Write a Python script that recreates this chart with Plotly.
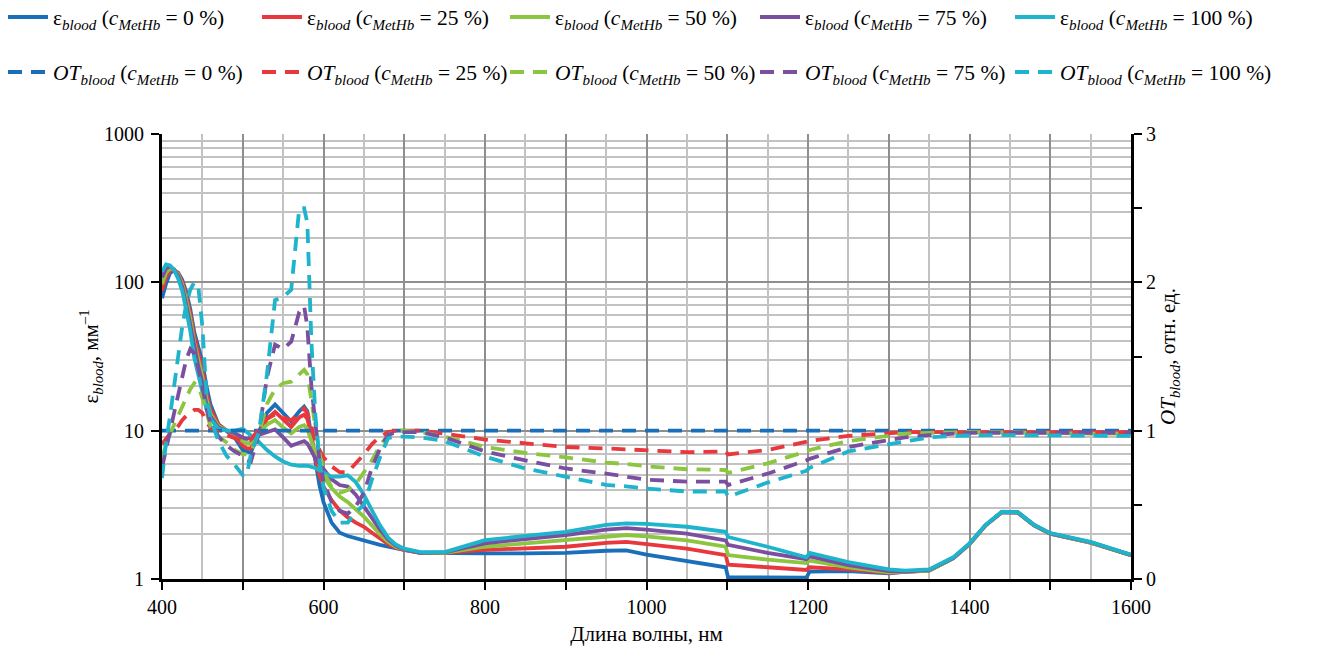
import plotly.graph_objects as go

# Wavelength grid, nm
WL = [400, 405, 410, 415, 420, 425, 430, 435, 440, 445,
      450, 455, 460, 470, 480, 490, 500, 505, 510, 520,
      530, 540, 550, 560, 570, 576, 580, 585, 590, 595,
      600, 610, 620, 630, 640, 650, 660, 670, 680, 690,
      700, 720, 750, 800, 850, 900, 950, 975, 1000, 1050,
      1098, 1101, 1150, 1198, 1202, 1250, 1300, 1320, 1350, 1380,
      1400, 1420, 1440, 1460, 1480, 1500, 1550, 1600]

# epsilon_blood, mm^-1
EPS_0 = [78, 98, 116, 120, 116, 104, 86, 66, 46, 36,
         29, 20, 15, 11, 10, 9, 7.4, 7.2, 7.1, 9.8,
         13.2, 15, 13, 11.5, 13.5, 14.5, 13.5, 9.5, 6.2, 4.3,
         3.3, 2.4, 2.05, 1.95, 1.88, 1.83, 1.76, 1.7, 1.65, 1.6,
         1.57, 1.5, 1.49, 1.49, 1.49, 1.5, 1.55, 1.56, 1.46, 1.33,
         1.2, 1.03, 1.02, 1.02, 1.12, 1.13, 1.09, 1.12, 1.14, 1.38,
         1.72, 2.3, 2.82, 2.8, 2.3, 2.02, 1.76, 1.45]
EPS_25 = [88, 108, 120, 121, 115, 101, 82, 62, 43, 33,
          26, 18, 14, 11, 10, 9.2, 7.9, 7.6, 7.6, 9.6,
          12, 13.4, 12, 10.6, 12.3, 12.8, 12, 9.3, 6.5, 5.0,
          4.2, 3.4, 2.9, 2.6, 2.4, 2.25, 2.05, 1.88, 1.72, 1.62,
          1.57, 1.5, 1.5, 1.57, 1.6, 1.65, 1.75, 1.78, 1.72, 1.6,
          1.45, 1.25, 1.2, 1.15, 1.2, 1.16, 1.1, 1.12, 1.14, 1.38,
          1.72, 2.3, 2.82, 2.8, 2.3, 2.02, 1.76, 1.45]
EPS_50 = [97, 116, 124, 122, 113, 97, 76, 57, 39, 30,
          23, 16.5, 13, 10.7, 10, 9.4, 8.5, 8.2, 8.3, 9.5,
          11, 11.8, 10.5, 9.6, 10.6, 10.9, 10.3, 8.5, 7.0, 5.8,
          4.9, 4.1, 3.6, 3.3, 2.95, 2.63, 2.3, 2.0, 1.78, 1.64,
          1.58, 1.5, 1.5, 1.65, 1.74, 1.83, 1.95, 1.98, 1.94, 1.82,
          1.65, 1.45, 1.35, 1.28, 1.33, 1.2, 1.11, 1.12, 1.14, 1.38,
          1.72, 2.3, 2.82, 2.8, 2.3, 2.02, 1.76, 1.45]
EPS_75 = [108, 124, 128, 122, 110, 93, 71, 52, 36, 27,
          21, 15, 12.5, 10.5, 10, 9.6, 9.0, 8.8, 9.0, 9.4,
          9.8, 10.2, 9.0, 7.9, 8.3, 8.5, 8.2, 7.3, 6.5, 6.0,
          5.5, 4.7, 4.3, 4.2, 3.7, 3.1, 2.6, 2.15, 1.85, 1.67,
          1.58, 1.5, 1.51, 1.74, 1.86, 1.98, 2.15, 2.2, 2.15, 2.02,
          1.82, 1.7, 1.5, 1.36, 1.42, 1.24, 1.13, 1.12, 1.15, 1.39,
          1.73, 2.31, 2.83, 2.81, 2.31, 2.03, 1.77, 1.45]
EPS_100 = [118, 132, 130, 121, 106, 88, 65, 47, 31, 24,
           19, 14, 12, 10.3, 10, 10, 10.3, 9.8, 9.3, 8.4,
           7.4, 6.7, 6.2, 5.9, 5.8, 5.8, 5.8, 5.7, 5.6, 5.4,
           5.2, 4.9, 4.9, 5.0, 4.5, 3.7, 2.9, 2.3, 1.9, 1.7,
           1.6, 1.52, 1.52, 1.83, 1.95, 2.08, 2.32, 2.37, 2.35, 2.25,
           2.08, 1.92, 1.65, 1.4, 1.5, 1.3, 1.16, 1.14, 1.16, 1.4,
           1.74, 2.32, 2.84, 2.82, 2.32, 2.04, 1.78, 1.46]

# OT_blood, rel. units
WL_OT0 = [400, 1600]
OT_0 = [1.0, 1.0]
OT_25 = [0.91, 0.95, 0.98, 1.0, 1.03, 1.07, 1.1, 1.12, 1.14, 1.14,
         1.12, 1.06, 1.02, 0.99, 0.97, 0.95, 0.93, 0.93, 0.94, 1.01,
         1.08, 1.11, 1.09, 1.07, 1.12, 1.15, 1.12, 1.02, 0.94, 0.87,
         0.82, 0.76, 0.72, 0.72, 0.78, 0.84, 0.91, 0.96, 0.99, 1.0,
         1.0, 1.0, 0.98, 0.94, 0.915, 0.89, 0.88, 0.875, 0.87, 0.855,
         0.86, 0.84, 0.87, 0.92, 0.93, 0.965, 0.985, 0.99, 0.99, 0.99,
         0.99, 0.99, 0.995, 0.995, 0.99, 0.99, 0.99, 0.99]
OT_50 = [0.82, 0.9, 0.98, 1.04, 1.1, 1.15, 1.22, 1.28, 1.32, 1.3,
         1.22, 1.12, 1.03, 0.96, 0.92, 0.87, 0.84, 0.84, 0.86, 0.98,
         1.18, 1.28, 1.32, 1.33, 1.38, 1.41, 1.38, 1.2, 1.0, 0.85,
         0.72, 0.62, 0.58, 0.6, 0.64, 0.72, 0.8, 0.9, 0.97, 1.0,
         1.0, 0.99, 0.96, 0.89, 0.85, 0.82, 0.785, 0.775, 0.76, 0.74,
         0.735, 0.715, 0.78, 0.86, 0.87, 0.93, 0.97, 0.98, 0.985, 0.99,
         0.99, 0.99, 0.99, 0.99, 0.985, 0.985, 0.98, 0.98]
OT_75 = [0.75, 0.88, 1.02, 1.12, 1.24, 1.36, 1.48, 1.55, 1.52, 1.42,
         1.3, 1.15, 1.05, 0.96, 0.9, 0.86, 0.83, 0.8, 0.79, 0.98,
         1.36, 1.58, 1.55, 1.6, 1.8, 1.84, 1.7, 1.3, 1.02, 0.8,
         0.66, 0.52, 0.46, 0.44, 0.49, 0.58, 0.75, 0.88, 0.97, 0.99,
         0.99, 0.99, 0.955, 0.86, 0.8, 0.745, 0.71, 0.69, 0.67, 0.656,
         0.656, 0.634, 0.71, 0.8, 0.81, 0.89, 0.94, 0.955, 0.97, 0.98,
         0.985, 0.985, 0.985, 0.985, 0.985, 0.985, 0.985, 0.985]
OT_100 = [0.68, 0.92, 1.1, 1.3, 1.52, 1.7, 1.85, 1.95, 2.0, 1.97,
          1.7, 1.25, 1.08, 0.93, 0.83, 0.77, 0.7, 0.7, 0.84, 0.99,
          1.38, 1.88, 1.9, 1.95, 2.5, 2.5, 2.4, 1.6, 1.1, 0.8,
          0.62, 0.46, 0.38, 0.38, 0.45, 0.5, 0.67, 0.82, 0.95, 0.96,
          0.96, 0.955, 0.93, 0.825, 0.745, 0.69, 0.634, 0.625, 0.61, 0.59,
          0.59, 0.555, 0.65, 0.73, 0.75, 0.86, 0.91, 0.93, 0.955, 0.965,
          0.97, 0.97, 0.97, 0.97, 0.97, 0.965, 0.965, 0.965]

CONC = ["0", "25", "50", "75", "100"]
COLORS = ["#1a6fba", "#e8383d", "#8cc540", "#7b4f9f", "#1db4cc"]

FONT = "Liberation Serif"
LEG_X = [3, 257, 505, 755, 1010]          # legend column positions (px from left)
LEG_ROW_Y = [1 - 17 / 653, 1 - 72 / 653]  # legend row centres (container fraction)

fig = go.Figure()
legends = {}

eps_series = [EPS_0, EPS_25, EPS_50, EPS_75, EPS_100]
for i, (c, col, ys) in enumerate(zip(CONC, COLORS, eps_series)):
    key = "legend" if i == 0 else f"legend{i + 1}"
    fig.add_trace(go.Scatter(
        x=WL, y=ys, mode="lines",
        line=dict(color=col, width=3.8),
        name=f"ε<sub><i>blood</i></sub> (<i>c</i><sub><i>MetHb</i></sub> = {c} %)",
        legend=key, showlegend=True))
    legends[key] = (LEG_X[i], LEG_ROW_Y[0])

ot_series = [(WL_OT0, OT_0), (WL, OT_25), (WL, OT_50), (WL, OT_75), (WL, OT_100)]
for i, (c, col, (xs, ys)) in enumerate(zip(CONC, COLORS, ot_series)):
    key = f"legend{i + 6}"
    fig.add_trace(go.Scatter(
        x=xs, y=ys, mode="lines", yaxis="y2",
        line=dict(color=col, width=3.8, dash="14px,9px"),
        name=f"<i>OT</i><sub><i>blood</i></sub> (<i>c</i><sub><i>MetHb</i></sub> = {c} %)",
        legend=key, showlegend=True))
    legends[key] = (LEG_X[i], LEG_ROW_Y[1])

x_ticks = [400, 500, 600, 700, 800, 900, 1000, 1100, 1200, 1300, 1400, 1500, 1600]
x_text = [str(v) if v % 200 == 0 else "" for v in x_ticks]

layout_legends = {}
for key, (px, yy) in legends.items():
    layout_legends[key] = dict(
        orientation="h", xref="container", yref="container",
        x=px / 1333, y=yy, xanchor="left", yanchor="middle",
        bgcolor="rgba(0,0,0,0)", font=dict(family=FONT, size=21.5), itemwidth=40,
        visible=True)

fig.update_layout(
    width=1333, height=653, autosize=False, showlegend=True,
    margin=dict(l=162, r=202, t=134, b=74, autoexpand=False),
    paper_bgcolor="white", plot_bgcolor="white",
    font=dict(family=FONT, size=20, color="black"),
    xaxis=dict(
        range=[400, 1600], tickmode="array", tickvals=x_ticks, ticktext=x_text,
        ticks="outside", ticklen=8, tickwidth=2, tickcolor="black",
        showline=True, linewidth=3, linecolor="black",
        showgrid=True, gridcolor="#8e8e8e", gridwidth=1.5,
        minor=dict(dtick=50, showgrid=True, gridcolor="#c2c2c2", gridwidth=1.5, ticks=""),
        zeroline=False,
        tickfont=dict(family=FONT, size=20),
        title=dict(text="Длина волны, нм", font=dict(family=FONT, size=21), standoff=10),
    ),
    yaxis=dict(
        type="log", range=[0, 3], tickmode="array", tickvals=[1, 10, 100, 1000],
        ticktext=["1", "10", "100", "1000"],
        ticks="outside", ticklen=8, tickwidth=2, tickcolor="black",
        showline=True, linewidth=3, linecolor="black",
        showgrid=True, gridcolor="#8e8e8e", gridwidth=1.5,
        minor=dict(dtick="D1", showgrid=True, gridcolor="#c2c2c2", gridwidth=1.5, ticks=""),
        zeroline=False, ticklabelstandoff=3,
        tickfont=dict(family=FONT, size=20),
        title=dict(text="ε<sub><i>blood</i></sub>, мм<sup>–1</sup>", font=dict(family=FONT, size=21), standoff=0),
    ),
    yaxis2=dict(
        overlaying="y", side="right", range=[0, 3], tickmode="array",
        tickvals=[0, 0.5, 1, 1.5, 2, 2.5, 3], ticktext=["0", "", "1", "", "2", "", "3"],
        ticks="outside", ticklen=8, tickwidth=2, tickcolor="black",
        showline=True, linewidth=3, linecolor="black",
        showgrid=False, zeroline=False,
        tickfont=dict(family=FONT, size=20),
        title=dict(text="<i>OT</i><sub><i>blood</i></sub>, отн. ед.", font=dict(family=FONT, size=21), standoff=6),
    ),
    **layout_legends,
)

fig.write_html("out.html")
